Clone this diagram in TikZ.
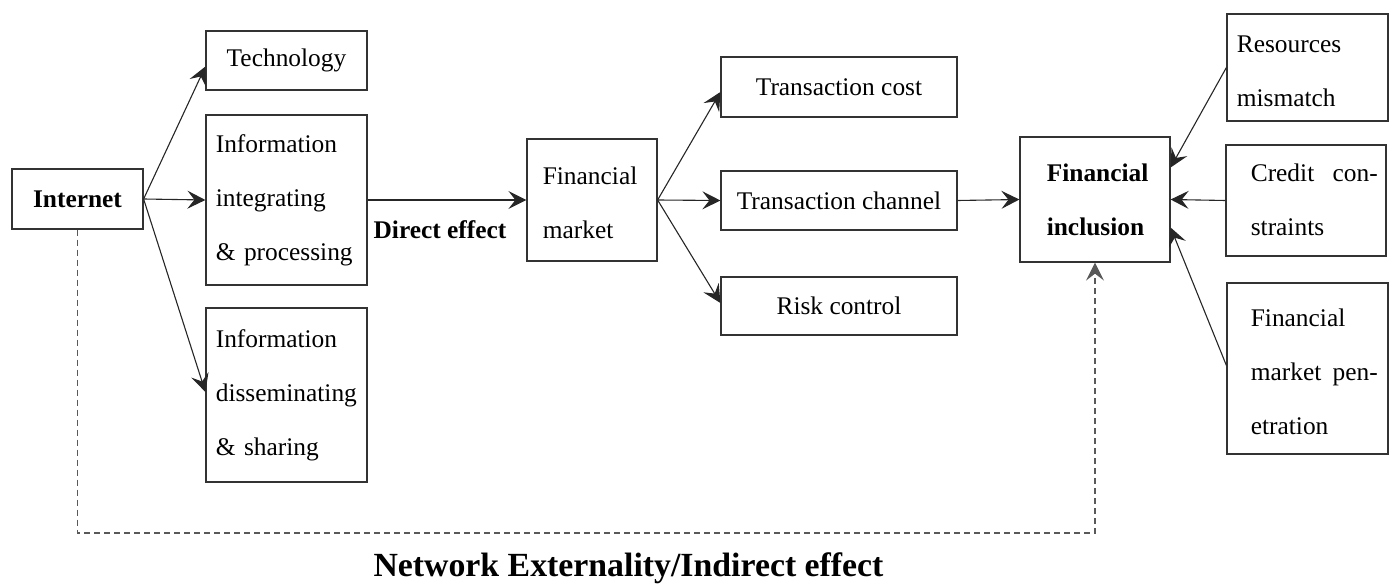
\documentclass[tikz,border=0pt]{standalone}
\usepackage{fontspec}
\setmainfont{Liberation Serif}
\usetikzlibrary{arrows.meta,calc}

\tikzset{
  box/.style={draw=black!80, line width=0.6pt, inner sep=0pt, align=center,
    font=\fontsize{12.7}{27}\selectfont},
  txt/.style={inner sep=0pt, align=left, anchor=west,
    font=\fontsize{12.7}{27}\selectfont},
  arr/.style={draw=black!85, line width=0.55pt,
    -{Stealth[length=9pt,width=9pt,inset=3.5pt]}},
  dasharr/.style={draw=black!65, line width=0.55pt, dash pattern=on 3pt off 2pt,
    -{Stealth[length=9pt,width=9pt,inset=3.5pt]}},
}

\begin{document}
\begin{tikzpicture}[x=0.5pt,y=-0.5pt]
\useasboundingbox (0,0) rectangle (1392,588);

% left column
\node[box, minimum width=65.5pt, minimum height=30pt, font=\fontsize{12.7}{27}\selectfont\bfseries]
  (inet) at (77.5,199) {Internet};
\node[box, minimum width=80.5pt, minimum height=29.5pt] (tech) at (286.5,60.5) {Technology};
\node[box, minimum width=80.5pt, minimum height=85pt] (integ) at (286.5,200) {};
\node[txt, text width=72pt] (integ-t) at ($(integ.west)+(10,0)$)
  {Information\\integrating\\\& processing};
\node[box, minimum width=80.5pt, minimum height=87pt] (dissem) at (286.5,395) {};
\node[txt, text width=72pt] (dissem-t) at ($(dissem.west)+(10,0)$)
  {Information\\disseminating\\\& sharing};

% middle
\node[box, minimum width=65pt, minimum height=61pt] (fmarket) at (592,200) {};
\node[txt, text width=55pt] (fmarket-t) at ($(fmarket.west)+(16,2.5)$) {Financial\\market};
\node[box, minimum width=118pt, minimum height=30pt] (tcost) at (839,87) {Transaction cost};
\node[box, minimum width=118pt, minimum height=29.5pt] (tchan) at (839,200.5) {Transaction channel};
\node[box, minimum width=118pt, minimum height=29pt] (risk) at (839,306) {Risk control};

% right
\node[box, minimum width=75pt, minimum height=62.5pt] (incl) at (1095,199.5) {};
\node[txt, text width=60pt, font=\fontsize{12.7}{27}\selectfont\bfseries]
  (incl-t) at ($(incl.west)+(27,0.5)$) {Financial\\inclusion};
\node[box, minimum width=80.5pt, minimum height=53.5pt] (resmis) at (1307.5,67.5) {};
\node[txt, text width=72pt] (resmis-t) at ($(resmis.west)+(10,4)$) {Resources\\mismatch};
\node[box, minimum width=80pt, minimum height=55.5pt] (credit) at (1306,200.5) {};
\node[txt, text width=63.5pt] (credit-t) at ($(credit.west)+(25,-0.5)$) {Credit\hfill con-\\straints};
\node[box, minimum width=80.5pt, minimum height=85.5pt] (penet) at (1307.5,368.5) {};
\node[txt, text width=63.5pt] (penet-t) at ($(penet.west)+(24,3)$) {Financial\\market\hfill pen-\\etration};

% connectors
\draw[arr] (inet.east) -- ($(tech.west)+(0,6)$);
\draw[arr] (inet.east) -- (integ.west);
\draw[arr] (inet.east) -- ($(dissem.west)+(0,-3)$);
\draw[arr] (integ.east) -- (fmarket.west);
\node[inner sep=0pt, font=\fontsize{12.7}{15}\selectfont\bfseries] (direct) at (440,230) {Direct effect};
\draw[arr] (fmarket.east) -- ($(tcost.west)+(0,5)$);
\draw[arr] (fmarket.east) -- (tchan.west);
\draw[arr] (fmarket.east) -- ($(risk.west)+(0,-3)$);
\draw[arr] (tchan.east) -- (incl.west);
\draw[arr] (resmis.west) -- ($(incl.east)+(0,-32)$);
\draw[arr] (credit.west) -- (incl.east);
\draw[arr] ($(penet.west)+(0,-3)$) -- ($(incl.east)+(0,28)$);

% indirect path
\coordinate (bend) at (0,533);
\draw[dasharr] (inet.south) -- (inet.south |- bend) -- (incl.south |- bend) -- (incl.south);
\node[inner sep=0pt, font=\fontsize{16.9}{20}\selectfont\bfseries] (netlab) at (628.5,568)
  {Network Externality/Indirect effect};
\end{tikzpicture}
\end{document}
